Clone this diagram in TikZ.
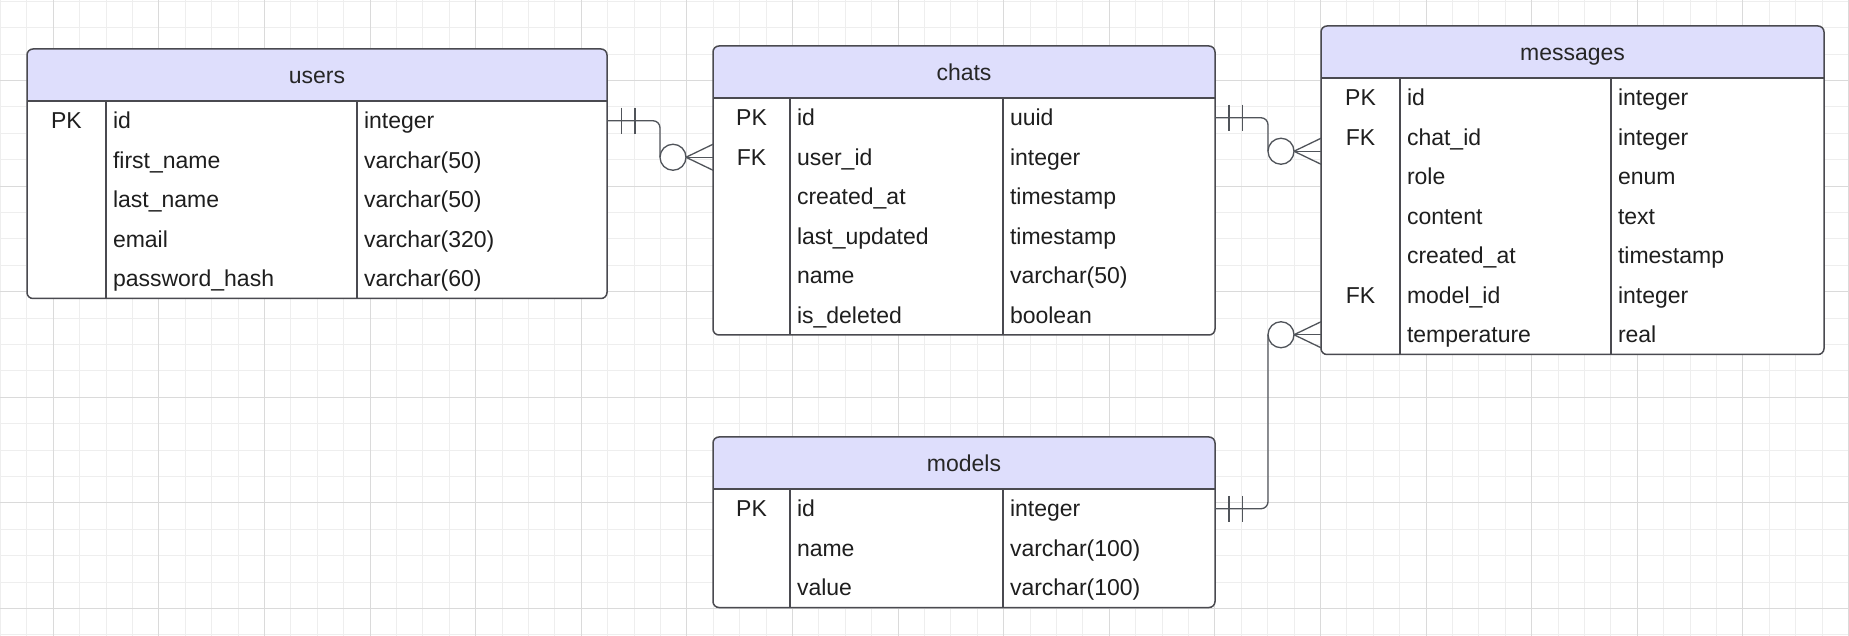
\documentclass[tikz,border=0pt]{standalone}
\usepackage{fontspec}
\setmainfont{Liberation Sans}
\usetikzlibrary{fit,calc}
\definecolor{hdrc}{HTML}{DEDEFC}
\definecolor{bordc}{HTML}{4A4A50}
\definecolor{txtc}{HTML}{1E1E1E}
\definecolor{gridminor}{HTML}{EEEEEE}
\definecolor{gridmajor}{HTML}{DADADA}
\definecolor{connc}{HTML}{50545A}

\tikzset{
  gmin/.style={draw=gridminor, line width=0.5pt},
  gmaj/.style={draw=gridmajor, line width=0.5pt},
  tblframe/.style={draw=bordc, line width=0.75pt, rounded corners=3pt, inner sep=0pt, outer sep=0pt},
  tblline/.style={draw=bordc, line width=0.75pt},
  celltxt/.style={inner sep=0pt, outer sep=0pt, text height=8.2pt, text depth=0pt, text=txtc},
  titletxt/.style={celltxt, text=black!85},
  conn/.style={draw=connc, line width=0.65pt},
  ercirc/.style={circle, draw=connc, line width=0.65pt, fill=white, minimum size=13pt, inner sep=0pt, outer sep=0pt}
}

% #1 name, #2 x0, #3 x1, #4 x2, #5 x3, #6 top, #7 nrows, #8 title, #9 rows
\newcommand{\ertable}[9]{%
  \pgfmathsetmacro\erHB{#6+52}%
  \pgfmathsetmacro\erBT{#6+52+39.5*#7}%
  \path[fill=white, rounded corners=3pt] (#2,#6) rectangle (#5,\erBT);
  \begin{scope}
    \clip[rounded corners=3pt] (#2,#6) rectangle (#5,\erBT);
    \fill[hdrc] (#2,#6) rectangle (#5,\erHB);
  \end{scope}
  \node[tblframe, fit={(#2,#6) (#5,\erBT)}] (#1) {};
  \node[titletxt] (#1-title) at ({(#2+#5)/2},{#6+26}) {#8};
  \draw[tblline] (#2,\erHB) -- (#5,\erHB);
  \draw[tblline] (#3,\erHB) -- (#3,\erBT);
  \draw[tblline] (#4,\erHB) -- (#4,\erBT);
  \foreach \fk/\fn/\ft [count=\ri] in {#9} {
    \pgfmathsetmacro\erRY{\erHB+19.75+39.5*(\ri-1)}
    \node[celltxt] (#1-k\ri) at ({(#2+#3)/2},\erRY) {\fk};
    \node[celltxt, anchor=west] (#1-n\ri) at ({#3+7},\erRY) {\fn};
    \node[celltxt, anchor=west] (#1-t\ri) at ({#4+7},\erRY) {\ft};
  }
}

\begin{document}
\begin{tikzpicture}[x=0.5pt, y=-0.5pt, font=\fontsize{11.5pt}{13pt}\selectfont]
\useasboundingbox (0,0) rectangle (1849,636);
\fill[white] (0,0) rectangle (1849,636);
% grid
\foreach \k in {0,...,70} \draw[gmin] ({0.5+26.4*\k},0) -- ({0.5+26.4*\k},636);
\foreach \k in {0,...,24} \draw[gmin] (0,{1.3+26.4*\k}) -- (1849,{1.3+26.4*\k});
\foreach \k in {2,6,...,70} \draw[gmaj] ({0.5+26.4*\k},0) -- ({0.5+26.4*\k},636);
\foreach \k in {3,7,...,23} \draw[gmaj] (0,{1.3+26.4*\k}) -- (1849,{1.3+26.4*\k});

% tables
\ertable{users}{27}{106}{357}{607}{49}{5}{users}{PK/id/integer, /first\_name/varchar(50), /last\_name/varchar(50), /email/varchar(320), /password\_hash/varchar(60)}
\ertable{chats}{713}{790}{1003}{1215}{46}{6}{chats}{PK/id/uuid, FK/user\_id/integer, /created\_at/timestamp, /last\_updated/timestamp, /name/varchar(50), /is\_deleted/boolean}
\ertable{messages}{1321}{1400}{1611}{1824}{26}{7}{messages}{PK/id/integer, FK/chat\_id/integer, /role/enum, /content/text, /created\_at/timestamp, FK/model\_id/integer, /temperature/real}
\ertable{models}{713}{790}{1003}{1215}{437}{3}{models}{PK/id/integer, /name/varchar(100), /value/varchar(100)}

% users -> chats
\coordinate (s1) at (users.east |- users-k1);
\node[ercirc] (c1) at ($(chats.west |- chats-k2)+(-40,0)$) {};
\draw[conn, rounded corners=3.5pt] (s1) -| (c1.west);
\draw[conn] (c1.east) -- (chats.west |- c1.east);
\draw[conn] (c1.east) -- ($(chats.west |- c1.east)+(0,-13)$);
\draw[conn] (c1.east) -- ($(chats.west |- c1.east)+(0,13)$);
\draw[conn] ($(s1)+(14.5,-13)$) -- ($(s1)+(14.5,13)$);
\draw[conn] ($(s1)+(28,-13)$) -- ($(s1)+(28,13)$);

% chats -> messages
\coordinate (s2) at (chats.east |- chats-k1);
\node[ercirc] (c2) at ($(messages.west |- messages-k2)+(-40,14)$) {};
\draw[conn, rounded corners=3.5pt] (s2) -| (c2.west);
\draw[conn] (c2.east) -- (messages.west |- c2.east);
\draw[conn] (c2.east) -- ($(messages.west |- c2.east)+(0,-13)$);
\draw[conn] (c2.east) -- ($(messages.west |- c2.east)+(0,13)$);
\draw[conn] ($(s2)+(14,-13)$) -- ($(s2)+(14,13)$);
\draw[conn] ($(s2)+(27.5,-13)$) -- ($(s2)+(27.5,13)$);

% models -> messages
\coordinate (s3) at (models.east |- models-k1);
\node[ercirc] (c3) at ($(messages.west |- messages-k7)+(-40,0)$) {};
\draw[conn, rounded corners=3.5pt] (s3) -| (c3.west);
\draw[conn] (c3.east) -- (messages.west |- c3.east);
\draw[conn] (c3.east) -- ($(messages.west |- c3.east)+(0,-13)$);
\draw[conn] (c3.east) -- ($(messages.west |- c3.east)+(0,13)$);
\draw[conn] ($(s3)+(14,-13)$) -- ($(s3)+(14,13)$);
\draw[conn] ($(s3)+(27.5,-13)$) -- ($(s3)+(27.5,13)$);
\end{tikzpicture}
\end{document}
